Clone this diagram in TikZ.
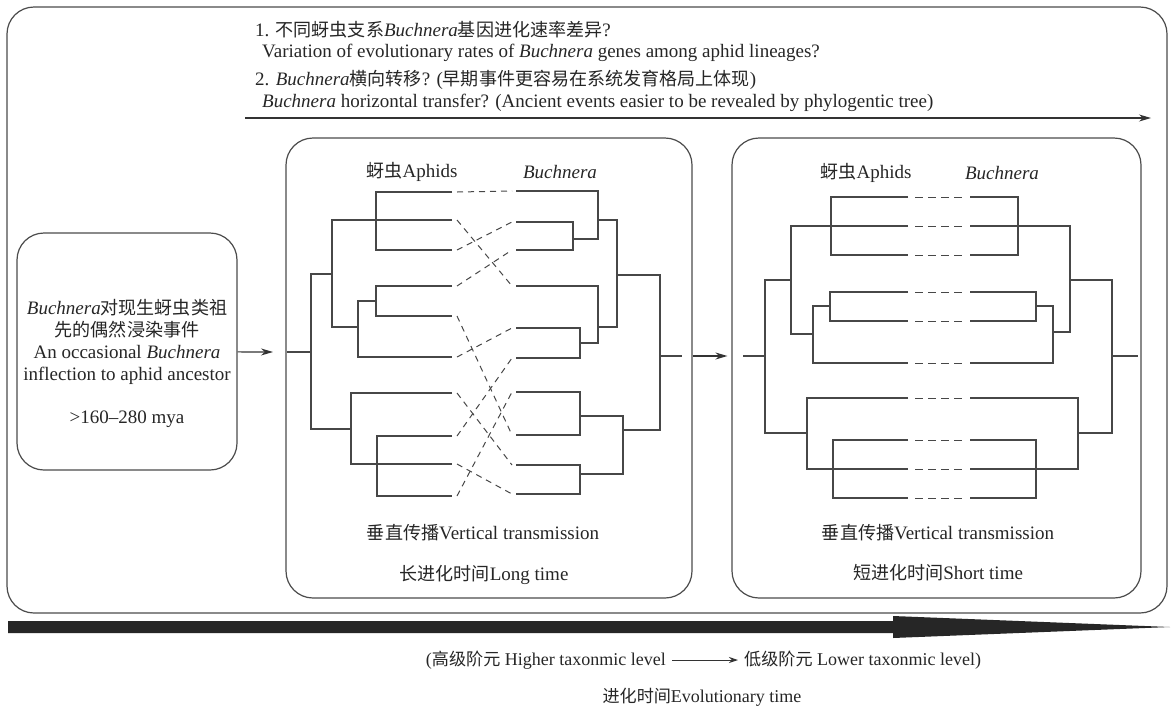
\documentclass[tikz,border=0pt]{standalone}
\usepackage{fontspec}
\setmainfont{Liberation Serif}
\newfontfamily\cjk[Scale=0.95]{Noto Sans CJK SC}
\newcommand{\zh}[1]{{\cjk #1}}
\usetikzlibrary{arrows.meta}

\begin{document}
\begin{tikzpicture}[x=1pt, y=-1pt]
    \tikzstyle{panel}=[draw=black!70, line width=1.2pt, rounded corners=27pt, inner sep=0pt]
    \tikzstyle{lbl}=[font=\fontsize{19}{22}\selectfont, text=black!85, inner sep=0pt]
    \tikzstyle{small}=[font=\fontsize{18}{20}\selectfont]
    \tikzstyle{branch}=[draw=black!72, line width=1.2pt]
    \tikzstyle{link}=[draw=black!72, line width=1pt, dash pattern=on 6pt off 5pt]
    \tikzstyle{arr}=[draw=black!80, line width=1.2pt, -{Stealth[length=12pt, width=7pt]}]

    \fill[white] (0,0) rectangle (1172,705);
    \useasboundingbox (0,0) rectangle (1172,705);

    \node[panel, minimum width=1160pt, minimum height=606pt] (frame) at (587,310) {};
    \node[panel, minimum width=220pt, minimum height=237pt] (infect) at (127,351.5) {};
    \node[panel, minimum width=406pt, minimum height=460pt] (lpanel) at (489,368) {};
    \node[panel, minimum width=409pt, minimum height=460pt] (rpanel) at (936.5,368) {};

    \node[lbl, anchor=west] (q1) at (255,30) {1. \zh{不同蚜虫支系}\textit{Buchnera}\zh{基因进化速率差异}?};
    \node[lbl, anchor=west] (q1en) at (262,53) {Variation of evolutionary rates of \textit{Buchnera} genes among aphid lineages?};
    \node[lbl, anchor=west] (q2) at (255,80) {2. \textit{Buchnera}\zh{横向转移}? (\zh{早期事件更容易在系统发育格局上体现})};
    \node[lbl, anchor=west] (q2en) at (262,103) {\textit{Buchnera} horizontal transfer? (Ancient events easier to be revealed by phylogentic tree)};
    \coordinate (qstart) at (245,118);
    \coordinate (qend) at (1151,118);
    \draw[arr] (qstart) -- (qend);

    \node[lbl, align=center] (infecttxt) at (127,363) {\textit{Buchnera}\zh{对现生蚜虫类祖}\\ \zh{先的偶然浸染事件}\\ An occasional \textit{Buchnera}\\ inflection to aphid ancestor\\[21pt] >160--280 mya};

    \node[lbl] (laph) at (412,172) {\zh{蚜虫}Aphids};
    \node[lbl] (lbuc) at (560,172) {\textit{Buchnera}};
    \node[lbl] (lvert) at (483,533) {\zh{垂直传播}Vertical transmission};
    \node[lbl] (llong) at (484,575) {\zh{长进化时间}Long time};
    \node[lbl] (raph) at (866,173) {\zh{蚜虫}Aphids};
    \node[lbl] (rbuc) at (1002,173) {\textit{Buchnera}};
    \node[lbl] (rvert) at (938,533) {\zh{垂直传播}Vertical transmission};
    \node[lbl] (rshort) at (938,573) {\zh{短进化时间}Short time};

    \foreach \i/\y in {1/192,2/220,3/250,4/286,5/316,6/357,7/393,8/436,9/464,10/496}
        \coordinate (la\i) at (452,\y);
    \foreach \i/\y in {1/191,2/222,3/250,4/286,5/328,6/358,7/392,8/435,9/465,10/494}
        \coordinate (lb\i) at (516,\y);
    \foreach \i/\y in {1/197,2/226,3/255,4/292,5/321,6/363,7/398,8/440,9/469,10/498} {
        \coordinate (ra\i) at (908,\y);
        \coordinate (rb\i) at (970,\y);
    }
    \coordinate (lroot) at (287,352);
    \coordinate (lbroot) at (682,356);
    \coordinate (rroot) at (743,356);
    \coordinate (rbroot) at (1138,356);

    \draw[branch] (la1) -| (376,250) -- (la3);
    \draw[branch] (la2) -| (332,327) -- (358,327);
    \draw[branch] (la4) -| (376,316) -- (la5);
    \draw[branch] (376,301) -- (358,301) |- (la6);
    \draw[branch] (332,274) -- (311,274) |- (351,429);
    \draw[branch] (la7) -| (351,464) -- (la9);
    \draw[branch] (la8) -| (377,496) -- (la10);
    \draw[branch] (lroot) -- (311,352);

    \draw[branch] (lb1) -| (598,239) -- (573,239);
    \draw[branch] (lb2) -| (573,250) -- (lb3);
    \draw[branch] (598,220) -- (617,220) |- (598,327);
    \draw[branch] (lb4) -| (598,343) -- (580,343);
    \draw[branch] (lb5) -| (580,358) -- (lb6);
    \draw[branch] (617,275) -- (660,275) |- (623,430);
    \draw[branch] (lb7) -| (580,435) -- (lb8);
    \draw[branch] (580,416) -- (623,416) |- (580,474);
    \draw[branch] (lb9) -| (580,494) -- (lb10);
    \draw[branch] (660,356) -- (lbroot);

    \draw[branch] (ra1) -| (831,255) -- (ra3);
    \draw[branch] (ra2) -| (791,334) -- (813,334);
    \draw[branch] (ra4) -| (830,321) -- (ra5);
    \draw[branch] (830,306) -- (813,306) |- (ra6);
    \draw[branch] (791,280) -- (765,280) |- (807,433);
    \draw[branch] (ra7) -| (807,469) -- (ra9);
    \draw[branch] (ra8) -| (833,498) -- (ra10);
    \draw[branch] (rroot) -- (765,356);

    \draw[branch] (rb1) -| (1018,255) -- (rb3);
    \draw[branch] (rb2) -| (1070,332) -- (1053,332);
    \draw[branch] (rb4) -| (1036,321) -- (rb5);
    \draw[branch] (1036,306) -- (1053,306) |- (rb6);
    \draw[branch] (1070,280) -- (1112,280) |- (1078,433);
    \draw[branch] (rb7) -| (1078,469) -- (rb9);
    \draw[branch] (rb8) -| (1036,498) -- (rb10);
    \draw[branch] (1112,356) -- (rbroot);

    \foreach \a/\b in {1/1,2/4,3/2,4/3,5/8,6/5,7/9,8/6,9/10,10/7}
        \draw[link] ([xshift=5pt]la\a) -- ([xshift=-4pt]lb\b);
    \foreach \i in {1,...,10}
        \draw[link, dash pattern=on 8pt off 5pt] ([xshift=7pt]ra\i) -- ([xshift=-7pt]rb\i);

    \draw[arr] (infect) -- ([xshift=-14pt]lroot);
    \draw[arr, shorten >=4pt] (lpanel.east |- lbroot) -- (rpanel.west |- lbroot);

    \fill[black!85] (8,621) -- (893,621) -- (893,616) -- (1170,627) -- (893,638) -- (893,633) -- (8,633) -- cycle;

    \node[lbl, small, anchor=east] (lvlhigh) at (666,660) {(\zh{高级阶元} Higher taxonmic level};
    \node[lbl, small, anchor=west] (lvllow) at (744,660) {\zh{低级阶元} Lower taxonmic level)};
    \draw[draw=black!80, line width=1pt, shorten <=6pt, shorten >=6pt, -{Stealth[length=9pt, width=6pt]}] (lvlhigh.east) -- (lvllow.west);
    \node[lbl, small] (evotime) at (702,697) {\zh{进化时间}Evolutionary time};
\end{tikzpicture}
\end{document}
